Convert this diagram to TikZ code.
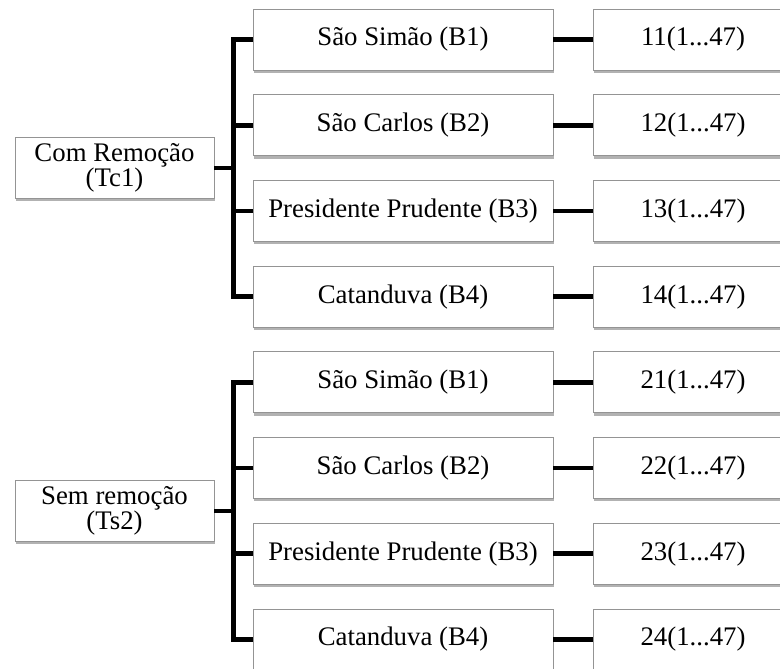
\documentclass[tikz,border=0pt]{standalone}
\usepackage{fontspec}
\setmainfont{Liberation Serif}
\usetikzlibrary{shadows}
\begin{document}
\begin{tikzpicture}[x=1pt,y=-1pt,
  box/.style={draw=black!42, line width=0.8pt, fill=white, inner sep=0pt,
    minimum height=61pt, align=center,
    font=\fontsize{26.8}{25.5}\selectfont,
    drop shadow={shadow xshift=0.6pt, shadow yshift=-2.8pt, fill=black, opacity=0.3}},
  leftbox/.style={box, minimum width=199pt},
  midbox/.style={box, minimum width=300pt},
  rightbox/.style={box, minimum width=200pt},
  conn/.style={line width=4.8pt, black, line join=miter}]
\useasboundingbox (0,0) rectangle (780,669);
\clip (0,0) rectangle (780,669);

% left boxes
\node[leftbox] (L1) at (114.5,168) {Com Remoção\\(Tc1)};
\node[leftbox] (L2) at (114.5,511) {Sem remoção\\(Ts2)};

% middle and right boxes
\foreach \i/\y/\t/\n in {
  1/39.5/São Simão (B1)/11,
  2/125.2/São Carlos (B2)/12,
  3/210.9/Presidente Prudente (B3)/13,
  4/296.6/Catanduva (B4)/14,
  5/382.3/São Simão (B1)/21,
  6/468.0/São Carlos (B2)/22,
  7/553.7/Presidente Prudente (B3)/23,
  8/639.4/Catanduva (B4)/24}{
  \node[midbox] (m\i) at (403,\y) {\t};
  \node[rightbox] (r\i) at (693,\y) {\n(1...47)};
  \draw[conn] (m\i.east) -- (r\i.west);
}

% group 1 tree
\path (L1.east) ++(19,0) coordinate (j1);
\draw[conn] (m1.west) -| (j1) |- (m4.west);
\draw[conn] (L1.east) -- (j1);
\draw[conn] (m2.west) -- (m2.west -| j1);
\draw[conn] (m3.west) -- (m3.west -| j1);

% group 2 tree
\path (L2.east) ++(19,0) coordinate (j2);
\draw[conn] (m5.west) -| (j2) |- (m8.west);
\draw[conn] (L2.east) -- (j2);
\draw[conn] (m6.west) -- (m6.west -| j2);
\draw[conn] (m7.west) -- (m7.west -| j2);
\end{tikzpicture}
\end{document}
